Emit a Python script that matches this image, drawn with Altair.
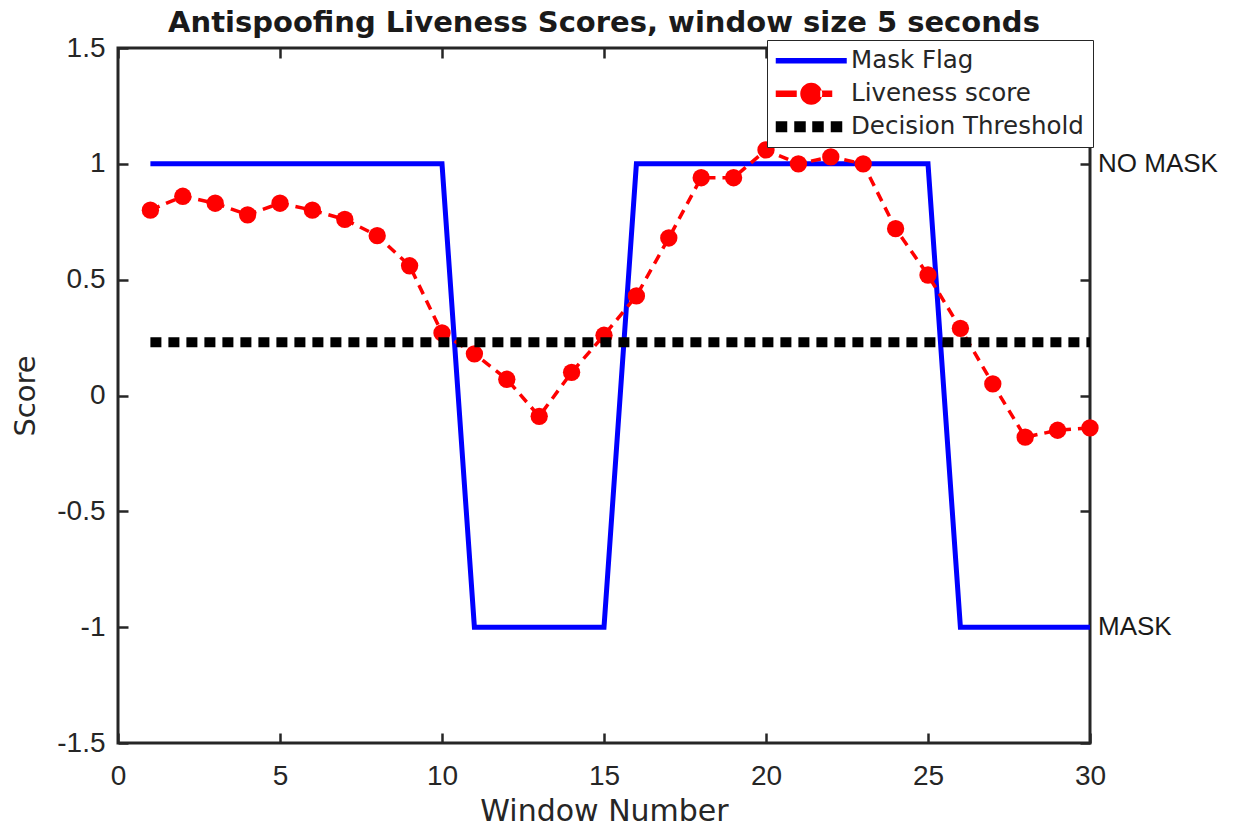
import altair as alt
import pandas as pd

# ---- data ----
windows = [1, 2, 3, 4, 5, 6, 7, 8, 9, 10,
           11, 12, 13, 14, 15, 16, 17, 18, 19, 20,
           21, 22, 23, 24, 25, 26, 27, 28, 29, 30]
liveness = [0.80, 0.86, 0.83, 0.78, 0.83, 0.80, 0.76, 0.69, 0.56, 0.27,
            0.18, 0.07, -0.09, 0.10, 0.26, 0.43, 0.68, 0.94, 0.94, 1.06,
            1.00, 1.03, 1.00, 0.72, 0.52, 0.29, 0.05, -0.18, -0.15, -0.14]
mask_flag = [1, 1, 1, 1, 1, 1, 1, 1, 1, 1,
             -1, -1, -1, -1, -1, 1, 1, 1, 1, 1,
             1, 1, 1, 1, 1, -1, -1, -1, -1, -1]
threshold_value = 0.23

x_ticks = [0, 5, 10, 15, 20, 25, 30]
y_ticks = [-1.5, -1, -0.5, 0, 0.5, 1, 1.5]

series_names = ["Mask Flag", "Liveness score", "Decision Threshold"]
series_colors = ["#0000ff", "#ff0000", "#000000"]
# legend glyphs (unit = half of sqrt(symbol size))
series_glyphs = [
    "M-3.55,-0.28H3.55V0.28H-3.55Z",
    "M-3.55,-0.32H-1.45V0.32H-3.55Z M0.9,-0.32H2.1V0.32H0.9Z "
    "M-1.1,0A1.1,1.1 0 1,0 1.1,0A1.1,1.1 0 1,0 -1.1,0Z",
    "M-3.55,-0.55H-2.4V0.55H-3.55Z M-1.7,-0.55H-0.55V0.55H-1.7Z "
    "M0.1,-0.55H1.25V0.55H0.1Z M1.95,-0.55H3.1V0.55H1.95Z",
]

state_labels = ["NO MASK", "MASK"]
state_levels = [1, -1]
state_x = [30, 30]

df = pd.DataFrame({
    "window": windows,
    "liveness": liveness,
    "mask": mask_flag,
    "threshold": [threshold_value] * len(windows),
})
states = pd.DataFrame({"label": state_labels, "level": state_levels, "x": state_x})
legend_df = pd.DataFrame({"series": series_names})

DARK = "#262626"
TICK_FONT = "Liberation Sans"
TEXT_FONT = "DejaVu Sans"

x_scale = alt.Scale(domain=[0, 30], nice=False, zero=False)
y_scale = alt.Scale(domain=[-1.5, 1.5], nice=False, zero=False)

common_axis = dict(
    offset=-10, tickSize=10, tickWidth=2.5, tickColor=DARK, domain=False,
    grid=False, labelFlush=False, labelOverlap=False,
)

x_axis_main = alt.Axis(
    values=x_ticks, labelExpr="datum.value + ''",
    labelFont=TICK_FONT, labelFontSize=28, labelColor=DARK, labelPadding=19,
    title="Window Number", titleFont=TEXT_FONT, titleFontSize=30,
    titleFontWeight="normal", titleColor=DARK, titlePadding=6,
    **common_axis,
)
y_axis_main = alt.Axis(
    values=y_ticks, labelExpr="datum.value + ''",
    labelFont=TICK_FONT, labelFontSize=28, labelColor=DARK, labelPadding=13,
    title="Score", titleFont=TEXT_FONT, titleFontSize=29,
    titleFontWeight="normal", titleColor=DARK, titlePadding=16,
    **common_axis,
)
x_axis_top = alt.Axis(orient="top", values=x_ticks, labels=False, title=None, **common_axis)
y_axis_right = alt.Axis(orient="right", values=y_ticks, labels=False, title=None, **common_axis)

base = alt.Chart(df)

mask_layer = base.mark_line(color="#0000ff", strokeWidth=5, strokeJoin="miter").encode(
    x=alt.X("window:Q", scale=x_scale, axis=x_axis_main),
    y=alt.Y("mask:Q", scale=y_scale, axis=y_axis_main),
)

live_line = base.mark_line(color="#ff0000", strokeWidth=3.5, strokeDash=[10, 7]).encode(
    x=alt.X("window:Q", axis=None),
    y=alt.Y("liveness:Q", axis=None),
)

live_pts = base.mark_circle(color="#ff0000", size=300, opacity=1).encode(
    x=alt.X("window:Q", axis=None),
    y=alt.Y("liveness:Q", axis=None),
)

thr_layer = base.mark_line(color="#000000", strokeWidth=10, strokeDash=[11, 7], strokeCap="butt").encode(
    x=alt.X("window:Q", axis=x_axis_top),
    y=alt.Y("threshold:Q", axis=y_axis_right),
)

state_layer = alt.Chart(states).mark_text(
    align="left", baseline="middle", dx=8, font="Liberation Sans",
    fontSize=26, color="#1a1a1a",
).encode(
    x=alt.X("x:Q", axis=None),
    y=alt.Y("level:Q", axis=None),
    text="label:N",
)

legend_props = dict(
    orient="none", legendX=649, legendY=-8, title=None,
    symbolOffset=23.5, labelOffset=27.5, padding=8.5, rowPadding=8,
    labelFont=TEXT_FONT, labelFontSize=24.5, labelColor=DARK, labelLimit=400,
    symbolStrokeWidth=0, symbolSize=400, fillColor="white", strokeColor=DARK,
)

legend_layer = alt.Chart(legend_df).mark_point(filled=True, opacity=1, size=400).encode(
    color=alt.Color("series:N", scale=alt.Scale(domain=series_names, range=series_colors),
                    legend=alt.Legend(**legend_props)),
    shape=alt.Shape("series:N", scale=alt.Scale(domain=series_names, range=series_glyphs),
                    legend=alt.Legend(**legend_props)),
).transform_filter("false")

chart = alt.layer(
    mask_layer, live_line, live_pts, thr_layer, state_layer, legend_layer
).resolve_axis(
    x="independent", y="independent"
).properties(
    width=972, height=695,
    autosize="none",
    padding={"left": 110, "top": 40, "right": 150, "bottom": 84},
    view=alt.ViewBackground(stroke=DARK, strokeWidth=3, fill="white"),
    title=alt.TitleParams(
        text="Antispoofing Liveness Scores, window size 5 seconds",
        font=TEXT_FONT, fontSize=29, fontWeight="bold", color="#1a1a1a",
        offset=-4, anchor="middle", frame="group",
    ),
).configure_view(
    stroke=DARK, strokeWidth=3
).configure_legend(
    strokeWidth=2.7
).configure(
    background="white"
)

chart.save("out.html", embed_options={"renderer": "svg", "actions": False})
